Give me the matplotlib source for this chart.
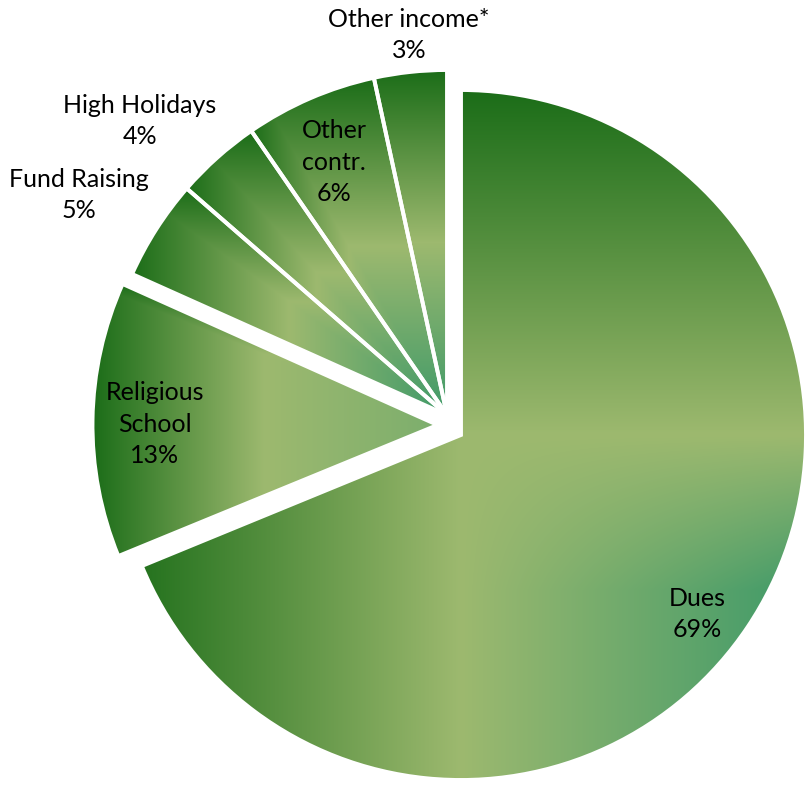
import numpy as np
import matplotlib.pyplot as plt

names = ['Dues', 'Religious\nSchool', 'Fund Raising', 'High Holidays', 'Other\ncontr.', 'Other income*']
shares = [68.8, 12.9, 4.7, 4.0, 6.2, 3.4]

W, H = 807, 785
R = 345
# slice centres and label centres, pixel coords measured from the top
centres = [(461, 435), (437.5, 425), (447, 415), (447, 415), (447, 415), (447, 415)]
label_xy = [(697, 614), (155, 424), (79, 195), (140, 121), (334, 162), (409, 35)]

dark = np.array([27, 109, 24]) / 255
light = np.array([157, 185, 111]) / 255
teal = np.array([63, 154, 105]) / 255


def blend(c0, c1, t):
    t = np.clip(t, 0, 1)[..., None]
    return c0 * (1 - t) + c1 * t


fig = plt.figure(figsize=(W / 100, H / 100), dpi=100)
ax = fig.add_axes([0, 0, 1, 1])
wedges, _ = ax.pie(shares, radius=R, center=(centres[0][0], H - centres[0][1]),
                   startangle=90, counterclock=False)

xx, yy = np.meshgrid(np.arange(W) + 0.5, np.arange(H) + 0.5)

for i, w in enumerate(wedges):
    cx, cy = centres[i][0], H - centres[i][1]
    w.set_center((cx, cy))
    w.set_facecolor('none')
    w.set_edgecolor('white')
    w.set_linewidth(2.8)
    w.set_zorder(3)
    dx, dy = xx - cx, yy - cy
    if i == 0:
        # dues: vertical fade in the upper part, sideways fade below
        tt = np.clip(dx / R, 0, 1) * np.clip(-dy / (0.45 * R), 0, 1)
        side = np.where((dx < 0)[..., None], blend(light, dark, -dx / R), blend(light, teal, tt))
        rgb = np.where((dy > 0)[..., None], blend(light, dark, dy / R), side)
    else:
        # rectangular fade out from the tip of the slice
        ang = np.radians(np.linspace(w.theta1, w.theta2, 200))
        bx = np.max(np.abs(np.cos(ang))) * R
        by = np.max(np.abs(np.sin(ang))) * R
        t = np.maximum(np.abs(dx) / bx, np.abs(dy) / by)
        tip = blend(light, teal, np.array(0.35 if i == 1 else 1.0))
        rgb = np.where((t < 0.5)[..., None], blend(tip, light, t * 2), blend(light, dark, t * 2 - 1))
    im = ax.imshow(rgb, extent=[0, W, 0, H], origin='lower', zorder=1, interpolation='nearest')
    im.set_clip_path(w)

for name, v, (x, y) in zip(names, shares, label_xy):
    ax.text(x, H - y, f'{name}\n{round(v)}%', ha='center', va='center', fontsize=18,
            family='Lato', linespacing=1.45, color='black', zorder=4)

ax.set_xlim(0, W)
ax.set_ylim(0, H)
ax.set_aspect('equal')
ax.axis('off')
fig.savefig('out.png', dpi=100)
